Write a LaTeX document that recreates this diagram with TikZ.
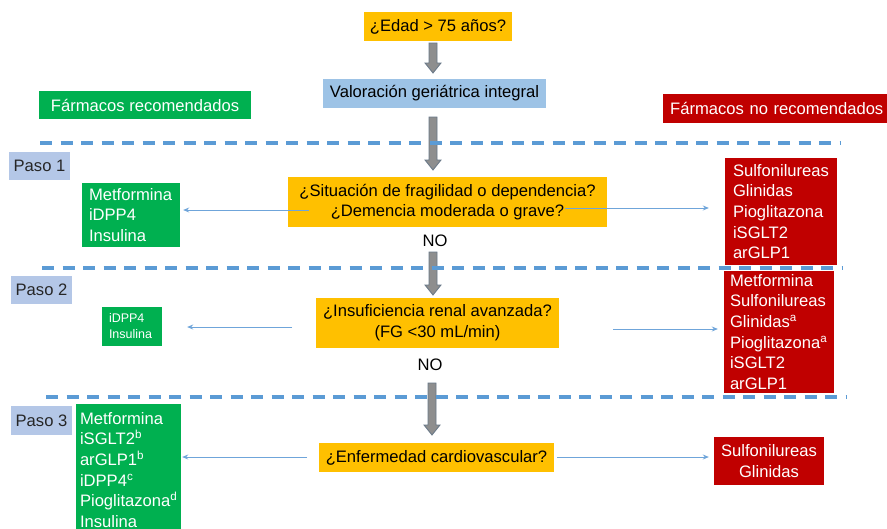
\documentclass[tikz,border=0pt]{standalone}
\usepackage{fontspec}
\setmainfont{Liberation Sans}
\usetikzlibrary{calc,arrows.meta}
\definecolor{qorange}{HTML}{FFC000}
\definecolor{valblue}{HTML}{9DC3E6}
\definecolor{pasoblue}{HTML}{B4C7E7}
\definecolor{okgreen}{HTML}{00B050}
\definecolor{nored}{HTML}{C00000}
\definecolor{arrgrey}{HTML}{8E8E8E}
\definecolor{arredge}{HTML}{687888}
\definecolor{linkblue}{HTML}{6FA5DA}
\definecolor{dashblue}{HTML}{5B9BD5}
\newcommand{\blkarrow}[2]{%
  \draw[blockarr] ($(#1)+(-4,0)$) -- ($(#2)+(-4,-10)$) -- ($(#2)+(-8,-10)$) -- (#2)
    -- ($(#2)+(8,-10)$) -- ($(#2)+(4,-10)$) -- ($(#1)+(4,0)$) -- cycle;}
\tikzset{
  basebox/.style={inner sep=0pt, font=\fontsize{16.6}{20.7}\selectfont, anchor=center},
  qbox/.style={basebox, fill=qorange, text=black, align=center},
  valbox/.style={basebox, fill=valblue, text=black, align=center},
  pasobox/.style={basebox, fill=pasoblue, text=black!85, align=center},
  greenbox/.style={basebox, fill=okgreen, text=white},
  redbox/.style={basebox, fill=nored, text=white},
  nolabel/.style={basebox, text=black},
  blockarr/.style={fill=arrgrey, draw=arredge, line width=0.8pt, line join=miter},
  linkarr/.style={draw=linkblue, line width=0.9pt, -{Stealth[length=6pt,width=5pt]}},
  sepline/.style={draw=dashblue, line width=3.2pt, dash pattern=on 12pt off 8.5pt}
}
\begin{document}
\begin{tikzpicture}[x=1pt,y=-1pt]
\useasboundingbox (0,0) rectangle (887,528);
\clip (0,0) rectangle (887,528);
\fill[white] (0,0) rectangle (887,528);

% question / main column
\node[qbox, minimum width=148pt, minimum height=29pt] (q0) at (438,26.5) {¿Edad > 75 años?};
\node[valbox, minimum width=223pt, minimum height=29pt] (val) at (434.5,93.5) {Valoración geriátrica integral};
\node[qbox, minimum width=319pt, minimum height=50pt] (q1) at (447.5,202) {¿Situación de fragilidad o dependencia?\\¿Demencia moderada o grave?};
\node[nolabel] (no1) at (435,241) {NO};
\node[qbox, minimum width=243pt, minimum height=50pt] (q2) at (437.5,323) {¿Insuficiencia renal avanzada?\\(FG <30 mL/min)};
\node[nolabel] (no2) at (430,365) {NO};
\node[qbox, minimum width=235pt, minimum height=29pt] (q3) at (436.5,457.5) {¿Enfermedad cardiovascular?};

% headers
\node[greenbox, minimum width=212pt, minimum height=28pt, align=center] (rec) at (145,105) {Fármacos recomendados};
\node[redbox, anchor=west, minimum width=232pt, minimum height=29pt, inner xsep=7pt, text width=218pt, align=left] (norec) at (663,108.5) {Fármacos no recomendados};

% paso labels
\node[pasobox, minimum width=61pt, minimum height=28pt] (p1) at (39.5,166) {Paso 1};
\node[pasobox, minimum width=61pt, minimum height=28pt] (p2) at (41.5,290) {Paso 2};
\node[pasobox, minimum width=61pt, minimum height=29pt] (p3) at (41.5,420.5) {Paso 3};

% recommended lists
\node[greenbox, minimum width=98pt, minimum height=64pt, inner xsep=7pt, text width=84pt, align=left] (gb1) at (131,215) {Metformina\\iDPP4\\Insulina};
\node[greenbox, minimum width=60pt, minimum height=39pt, inner xsep=7pt, text width=46pt, align=left, font=\fontsize{12.5}{16}\selectfont] (gb2) at (132,326.5) {iDPP4\\Insulina};
\node[greenbox, minimum width=105pt, minimum height=132pt, inner xsep=4pt, text width=97pt, align=left] (gb3) at (128.5,470) {Metformina\\iSGLT2\textsuperscript{b}\\arGLP1\textsuperscript{b}\\iDPP4\textsuperscript{c}\\Pioglitazona\textsuperscript{d}\\Insulina};

% not recommended lists
\node[redbox, minimum width=112pt, minimum height=107pt, inner xsep=8pt, text width=96pt, align=left] (rb1) at (781,211.5) {Sulfonilureas\\Glinidas\\Pioglitazona\\iSGLT2\\arGLP1};
\node[redbox, minimum width=110pt, minimum height=122pt, inner xsep=6pt, text width=98pt, align=left] (rb2) at (779,332) {Metformina\\Sulfonilureas\\Glinidas\textsuperscript{a}\\Pioglitazona\textsuperscript{a}\\iSGLT2\\arGLP1};
\node[redbox, minimum width=110pt, minimum height=48pt, align=center] (rb3) at (769,461) {Sulfonilureas\\Glinidas};

% grey block arrows
\coordinate (g1a) at (433,43);  \coordinate (g1b) at (433,73);
\coordinate (g2a) at (433,117); \coordinate (g2b) at (433,170);
\coordinate (g3a) at (433,252); \coordinate (g3b) at (433,295);
\coordinate (g4a) at (432,383); \coordinate (g4b) at (432,435);
\blkarrow{g1a}{g1b}
\blkarrow{g2a}{g2b}
\blkarrow{g3a}{g3b}
\blkarrow{g4a}{g4b}

% dashed separators
\coordinate (d1a) at (40,143);  \coordinate (d1b) at (840,143);
\coordinate (d2a) at (42,268);  \coordinate (d2b) at (842,268);
\coordinate (d3a) at (46,397);  \coordinate (d3b) at (847,397);
\draw[sepline] (d1a) -- (d1b);
\draw[sepline] (d2a) -- (d2b);
\draw[sepline] (d3a) -- (d3b);

% thin connectors
\coordinate (s1l) at (309,210);
\coordinate (s1r) at (565,208);
\coordinate (s2l) at (292,327);
\coordinate (s2r) at (613,329);
\coordinate (s3l) at (307,457);
\coordinate (s3r) at (557,457);
\draw[linkarr, shorten >=3pt] (s1l) -- (s1l -| gb1.east);
\draw[linkarr, shorten >=16pt] (s1r) -- (s1r -| rb1.west);
\draw[linkarr, shorten >=25pt] (s2l) -- (s2l -| gb2.east);
\draw[linkarr, shorten >=6pt] (s2r) -- (s2r -| rb2.west);
\draw[linkarr, shorten >=1pt] (s3l) -- (s3l -| gb3.east);
\draw[linkarr, shorten >=5pt] (s3r) -- (s3r -| rb3.west);
\end{tikzpicture}
\end{document}
